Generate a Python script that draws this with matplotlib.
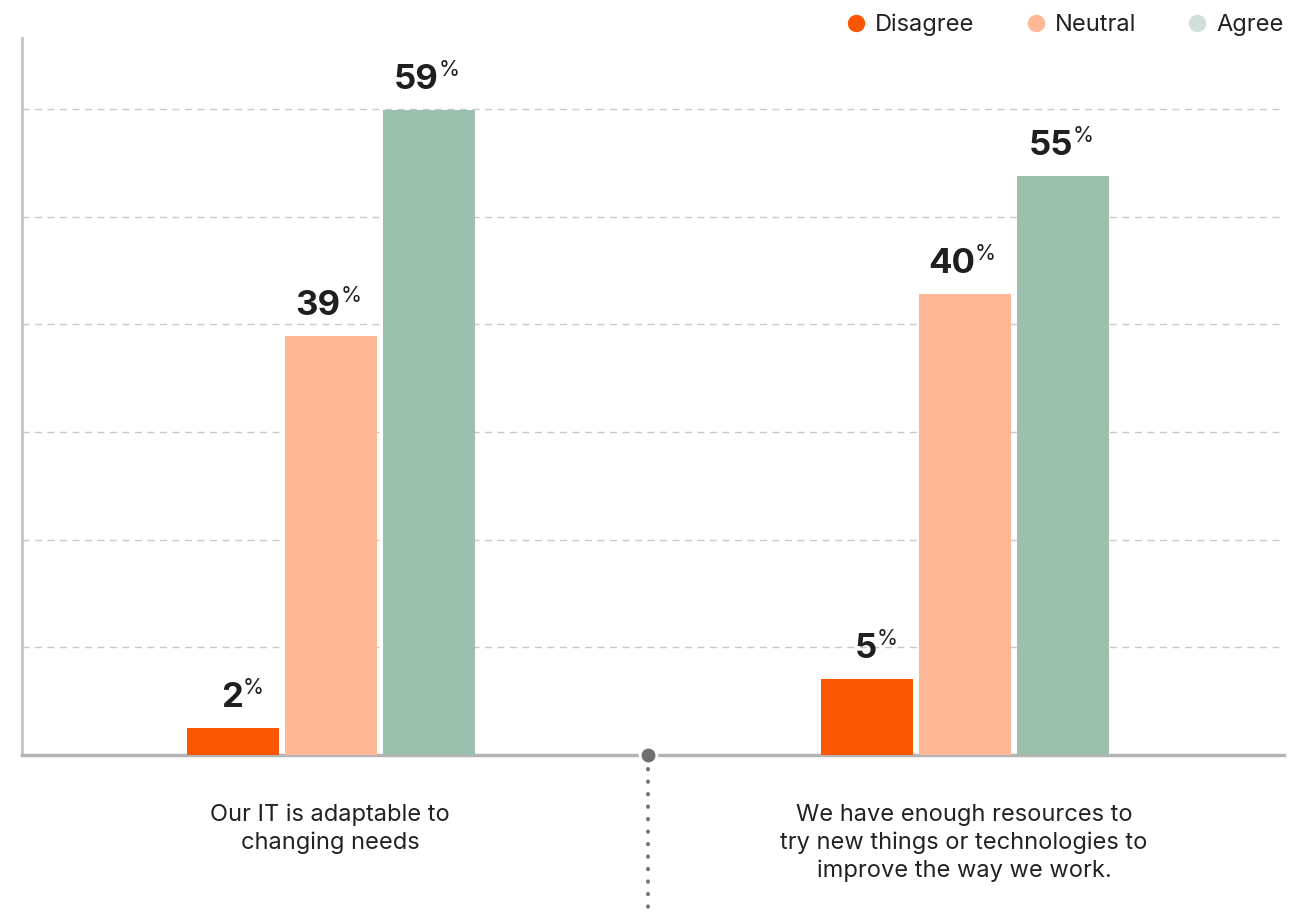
import matplotlib.pyplot as plt
from matplotlib.lines import Line2D
from matplotlib.transforms import blended_transform_factory

plt.rcParams['font.family'] = ['Inter', 'DejaVu Sans']

categories = ["Our IT is adaptable to\nchanging needs",
              "We have enough resources to\ntry new things or technologies to\nimprove the way we work."]
series = ["Disagree", "Neutral", "Agree"]
# printed labels
disagree = [2, 5]
neutral = [39, 40]
agree = [59, 55]
labels = [disagree, neutral, agree]
# bar heights as drawn in the picture (grid step = 10)
disagree_h = [2.5, 7.1]
neutral_h = [38.9, 42.8]
agree_h = [59.9, 53.8]
heights = [disagree_h, neutral_h, agree_h]

bar_colors = ["#fc5603", "#ffb795", "#9bc1ae"]
legend_colors = ["#fc5603", "#ffb795", "#cfe0d8"]

fig = plt.figure(figsize=(13.15, 9.17), dpi=100)
ax = fig.add_axes([22 / 1315, 1 - 755 / 917, 1262 / 1315, 717 / 917])

width = 0.145
step = 0.1546
for k in range(len(series)):
    xs = [i + (k - 1) * step for i in range(len(categories))]
    bars = ax.bar(xs, heights[k], width=width, color=bar_colors[k], zorder=3)
    for b, v in zip(bars, labels[k]):
        cx = b.get_x() + b.get_width() / 2
        top = b.get_height()
        ax.annotate(str(v), xy=(cx, top), xytext=(10, 21), textcoords='offset pixels',
                    ha='right', va='baseline', fontsize=25, fontweight='bold', color='#1f1f1f')
        ax.annotate('%', xy=(cx, top), xytext=(10, 34), textcoords='offset pixels',
                    ha='left', va='baseline', fontsize=15.5, color='#1f1f1f')

ax.set_xlim(-0.487, 1.503)
ax.set_ylim(0, 66.6)
ax.set_yticks(range(10, 61, 10))
ax.set_xticks([])
ax.tick_params(axis='y', length=0, labelleft=False)
ax.grid(axis='y', color='#c8c8c8', linestyle=(0, (5, 4)), linewidth=1, zorder=0)

for s in ['top', 'right']:
    ax.spines[s].set_visible(False)
ax.spines['left'].set_color('#c4c4c4')
ax.spines['left'].set_linewidth(2)
ax.spines['bottom'].set_color('#b4b4b4')
ax.spines['bottom'].set_linewidth(2.5)

trans = blended_transform_factory(ax.transData, ax.transAxes)
for i, cat in enumerate(categories):
    ax.annotate(cat, xy=(i, 0), xycoords=trans, xytext=(-1, -49), textcoords='offset pixels',
                ha='center', va='top', fontsize=17, color='#222222', linespacing=1.3)

# separator between groups
ax.plot([0.5, 0.5], [-0.02, -0.23], transform=trans, color='#777777', lw=2.9,
        linestyle=(0, (0.1, 3)), dash_capstyle='round', clip_on=False, zorder=4)
ax.plot([0.5], [0], transform=trans, marker='o', markersize=12, color='#707070',
        markeredgecolor='white', markeredgewidth=2, clip_on=False, zorder=5)

handles = [Line2D([], [], marker='o', linestyle='none', markersize=11.5,
                  color=c, markeredgecolor=c) for c in legend_colors]
fig.legend(handles, series, loc='upper right', bbox_to_anchor=(1305 / 1315, 1.008),
           ncol=3, frameon=False, fontsize=17, handletextpad=0.3, columnspacing=2.1,
           handlelength=1.0, labelcolor='#222222')

fig.savefig('out.png', dpi=100)
